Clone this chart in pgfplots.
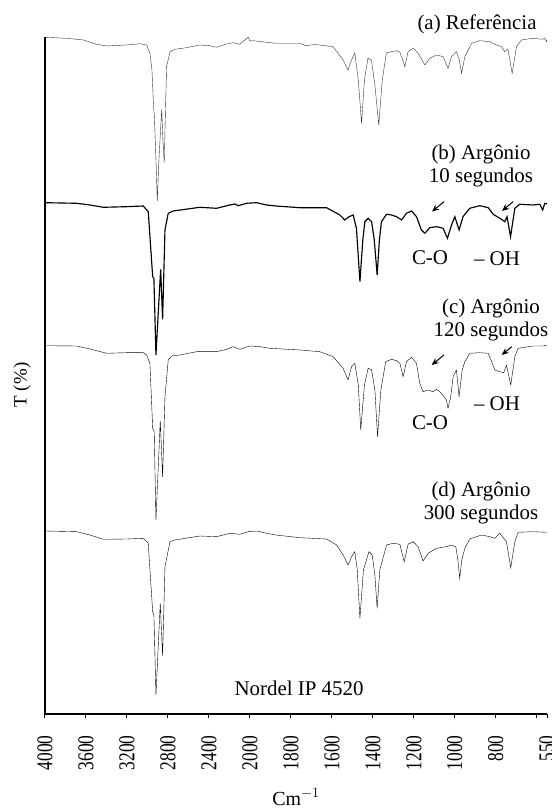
\documentclass[border=0pt]{standalone}
\usepackage{pgfplots}
\pgfplotsset{compat=1.18}
\usepackage{fontspec}
\setmainfont{Liberation Serif}
\usetikzlibrary{arrows.meta}
\definecolor{trace}{HTML}{333333}
\begin{document}
\begin{tikzpicture}[x=1bp,y=1bp]
\useasboundingbox (-45,-94) rectangle (507,714);
\begin{axis}[
  at={(0,0)}, anchor=south west,
  scale only axis, width=502bp, height=677bp,
  x coord trafo/.code={\pgfmathparse{(#1>=2000)*(4000-#1)/400+(#1<2000)*(5+(2000-#1)/200)}},
  xmin=4000, xmax=550, ymin=0, ymax=677,
  axis x line*=bottom, axis y line*=left,
  axis line style={line width=1.2bp, black},
  xtick={4000,3600,3200,2800,2400,2000,1800,1600,1400,1200,1000,800,600,550},
  xticklabels={4000,3600,3200,2800,2400,2000,1800,1600,1400,1200,1000,800,,550},
  ytick=\empty,
  tick align=outside, major tick length=4bp,
  tick style={line width=1bp, black},
  xticklabel shift=14bp,
  xticklabel style={rotate=90, yscale=1.3, anchor=east, font=\fontsize{17.5}{19}\selectfont},
  /pgf/number format/assume math mode=true,
  clip=false,
  cycle list={{trace, line width=1.15bp, line join=round, no markers}},
]
% (a) Referencia
\addplot coordinates {
(4000,676.7)(3788,675.7)(3626,674)(3496,669.7)(3398,668)(3203,669)(3073,670.3)(3008,669)
(2976,660.7)(2956,644)(2941,609)(2932,597)(2917,554)(2904,513)(2888,554)(2861,604.7)
(2849,574)(2836,551.3)(2824,604)(2813,647.3)(2780,662.3)(2732,664.7)(2618,666.3)(2488,669)
(2390,668.3)(2325,666.7)(2227,670)(2163,671.3)(2098,669.7)(2049,674)(2016,676.7)(2000,673)
(1984,673.3)(1919,671.7)(1873,670.7)(1756,670.7)(1727,668.3)(1683,669.5)(1595,667.3)
(1545,654)(1521,644)(1504,654)(1488,661)(1471,634)(1455,590.7)(1441,634)(1424,655.7)
(1407,654)(1390,629)(1371,589)(1354,634)(1334,661)(1309,662.3)(1285,663.3)(1268,661.7)
(1254,654)(1244,647.3)(1228,662.3)(1203,665.7)(1179,660.7)(1146,649)(1122,655.7)(1089,659)
(1057,657.3)(1033,645.7)(1016,657.3)(992,662.3)(978,654)(967,640.7)(951,657.3)(918,670.7)
(878,673.3)(829,672.3)(797,669)(772,667.3)(756,662.3)(741,665)(720,640.7)(699,667.3)
(675,674)(620,675.7)(571,674.7)(561,676)(553,672.3)(550,674)
};
% (b) Argonio 10 s
\addplot coordinates {
(4000,511.3)(3691,510.7)(3561,509)(3431,506.7)(3203,507.3)(3041,508)(2992,502.3)(2969,467.3)
(2949,437.3)(2937,435.7)(2917,359)(2871,444.7)(2852,394.7)(2829,484)(2797,500.7)(2748,503)
(2488,506.7)(2325,505.7)(2195,509)(2146,510)(2114,508.3)(2032,510.7)(1967,511.3)(1919,509)
(1873,508)(1756,506.3)(1626,506.3)(1561,499)(1537,494)(1516,497.3)(1496,499)(1480,485.7)
(1463,432.3)(1449,474)(1439,492.3)(1423,495.7)(1406,492.3)(1393,474)(1379,439)(1368,474)
(1358,492.3)(1333,499.7)(1309,499)(1284,497.3)(1260,494)(1236,500.7)(1211,503)(1187,497.3)
(1163,484)(1146,480.7)(1122,486.3)(1089,487.3)(1057,485.7)(1036,475.7)(1016,489)(1000,497.3)
(979,484)(960,497.3)(927,505.7)(878,508.3)(837,506.3)(813,499.7)(780,495.7)(756,492.3)
(745,497.3)(728,477.3)(707,505.7)(683,509.7)(618,509)(585,509.7)(571,504)(561,510.7)(550,510)
};
% (c) Argonio 120 s
\addplot coordinates {
(4000,368.3)(3691,368)(3561,365)(3398,360.7)(3203,361.3)(3041,361.3)(3008,359)(2976,350.7)
(2959,310.7)(2949,285.7)(2934,282.3)(2917,194)(2875,293)(2852,237.3)(2829,317.3)(2797,354)
(2764,358)(2683,359)(2520,362.3)(2325,362.3)(2227,364.7)(2163,367.3)(2098,364.7)(2000,368)
(1951,367.3)(1902,365.7)(1756,364)(1659,362.3)(1594,357.3)(1545,345.7)(1521,334)(1504,347.3)
(1488,350.7)(1471,329)(1459,284)(1441,329)(1423,345.7)(1406,344)(1390,324)(1377,277.3)
(1361,324)(1337,352.3)(1309,354.7)(1284,353.3)(1268,350.7)(1252,337.3)(1236,352.3)(1211,356.7)
(1187,350.7)(1171,330.7)(1155,322.3)(1130,324)(1106,322.3)(1089,324.7)(1065,320.7)(1041,314)
(1033,305.7)(1021,315.7)(1008,337.3)(992,344)(979,317.3)(964,344)(951,352.3)(927,360.7)
(878,361.3)(837,360.7)(820,352.3)(805,344)(780,342.3)(761,341.3)(748,349)(727,329)
(707,357.3)(691,365.7)(618,368)(569,368)(550,369)
};
% (d) Argonio 300 s
\addplot coordinates {
(4000,183)(3691,182.3)(3561,179)(3431,174.7)(3203,175)(3041,175.7)(2992,170.7)(2969,134)
(2949,102.3)(2937,99)(2917,19)(2875,110.7)(2852,58.3)(2829,147.3)(2780,172.3)(2732,174)
(2488,178)(2325,177.3)(2195,180.7)(2098,179.7)(2016,182.3)(1967,183)(1919,180.7)(1873,179)
(1756,176.3)(1626,175)(1577,169)(1545,159)(1521,149)(1504,157.3)(1488,162.3)(1476,144)
(1463,95.7)(1446,144)(1419,162.3)(1403,159)(1390,139)(1379,105.7)(1366,144)(1333,169)
(1301,170.7)(1268,169.7)(1247,152.3)(1228,169.7)(1203,172.3)(1179,167.3)(1155,153)(1130,160.7)
(1089,165.7)(1041,167.3)(1016,169)(995,167.3)(985,154)(976,135.7)(966,154)(951,165.7)
(927,175)(870,179)(829,177.3)(805,175.7)(780,180.7)(761,175.7)(748,172.3)(727,146.3)
(707,172.3)(691,181.7)(618,182.3)(553,181.7)(550,181.7)
};
\begin{scope}[font=\fontsize{21}{23}\selectfont]
\node at (rel axis cs:0.8606,1.0192) {(a) Referência};
\node[align=center] at (rel axis cs:0.8685,0.8095) {(b) Argônio\\10 segundos};
\node[align=center] at (rel axis cs:0.8884,0.582) {(c) Argônio\\120 segundos};
\node[align=center] at (rel axis cs:0.8685,0.3117) {(d) Argônio\\300 segundos};
\node at (rel axis cs:0.506,0.0384) {Nordel IP 4520};
\node at (rel axis cs:0.767,0.6736) {C-O};
\node at (rel axis cs:0.9004,0.672) {– OH};
\node at (rel axis cs:0.767,0.4298) {C-O};
\node at (rel axis cs:0.9004,0.4586) {– OH};
\end{scope}
\begin{scope}[black, line width=1bp, -{Stealth[length=7bp,width=6bp]}]
\draw (rel axis cs:0.7948,0.7567) -- (rel axis cs:0.7709,0.7422);
\draw (rel axis cs:0.9323,0.7567) -- (rel axis cs:0.9104,0.7430);
\draw (rel axis cs:0.7948,0.5303) -- (rel axis cs:0.7703,0.5155);
\draw (rel axis cs:0.9297,0.5425) -- (rel axis cs:0.9098,0.5303);
\end{scope}
\node[rotate=90, font=\fontsize{19}{21}\selectfont] at (rel axis cs:-0.0458,0.486) {T (\%)};
\node[font=\fontsize{20}{22}\selectfont] at (rel axis cs:0.5,-0.1226) {Cm$^{-1}$};
\end{axis}
\end{tikzpicture}
\end{document}
